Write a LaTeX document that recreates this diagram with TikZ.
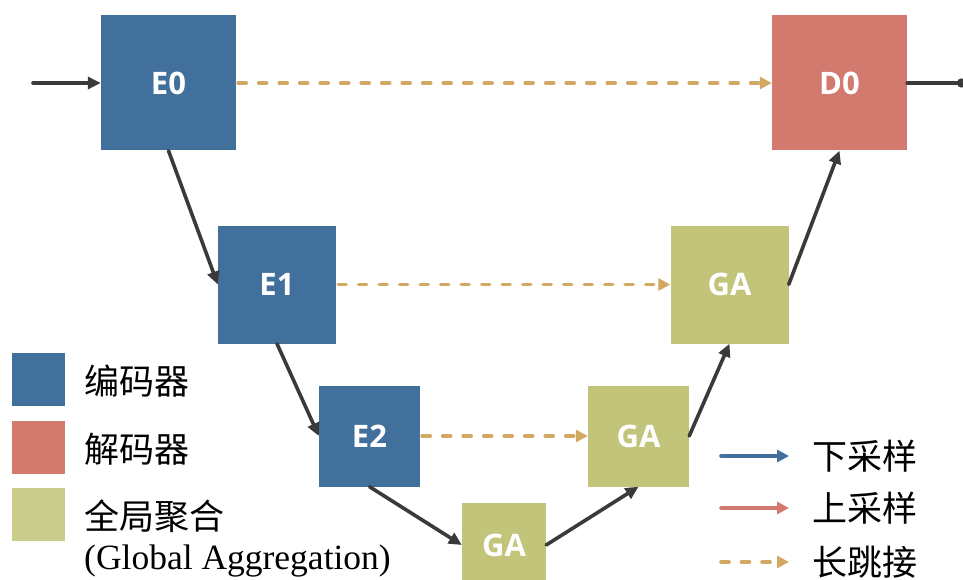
\documentclass[tikz,border=0pt]{standalone}
\usepackage{fontspec}
\setmainfont{Liberation Serif}
\newfontfamily\boxfont{Open Sans}
\newfontfamily\cjk{Noto Sans CJK SC}
\usetikzlibrary{arrows.meta}
\definecolor{encblue}{HTML}{41709C}
\definecolor{decred}{HTML}{D17A6D}
\definecolor{gagreen}{HTML}{C2C47A}
\definecolor{galegend}{HTML}{CACC8C}
\definecolor{skiptan}{HTML}{D2A862}
\definecolor{flowgray}{HTML}{3A3A3A}
\begin{document}
\begin{tikzpicture}[x=1pt,y=-1pt,
  blockbox/.style={minimum width=#1, minimum height=#1, inner sep=0pt,
    text=white, font=\boxfont\fontsize{31}{31}\selectfont\bfseries},
  enc/.style={blockbox=#1, fill=encblue},
  dec/.style={blockbox=#1, fill=decred},
  ga/.style={blockbox=#1, fill=gagreen},
  flow/.style={draw=flowgray, line width=3.6pt, line cap=round,
    -{Triangle[length=13pt,width=12pt]}},
  skip/.style={draw=skiptan, line width=3.6pt, line cap=round,
    dash pattern=on 8pt off 12.5pt,
    -{Triangle[length=12pt,width=12pt]}},
  legsq/.style={minimum width=53pt, minimum height=53pt, inner sep=0pt},
  legtext/.style={anchor=west, inner sep=0pt, font=\cjk\fontsize{35}{35}\selectfont}
]
\useasboundingbox (0,0) rectangle (963,580);

% encoder / decoder / aggregation blocks
\node[enc=135pt] (E0) at (168.5,83) {E0};
\node[dec=135pt] (D0) at (839.5,83) {D0};
\node[enc=118pt] (E1) at (277,284.5) {E1};
\node[ga=118pt]  (G1) at (729.5,284.5) {GA};
\node[enc=101pt] (E2) at (369.5,436) {E2};
\node[ga=101pt]  (G2) at (638.5,436) {GA};
\node[ga=84pt]   (G3) at (504,545) {GA};

% input and output
\coordinate (in) at (33,83);
\coordinate (out) at (966,83);
\draw[flow] (in) -- (E0.west);
\draw[flow, -{Circle[length=9pt]}] (D0.east) -- (out);

% down path
\draw[flow] (E0.south) -- (E1.west);
\draw[flow] (E1.south) -- (E2.west);
\draw[flow] (E2.south) -- (G3.west);
% up path
\draw[flow] (G3.east) -- (G2.south);
\draw[flow] (G2.east) -- (G1.south);
\draw[flow] (G1.east) -- (D0.south);

% long skip connections
\draw[skip] ([xshift=2pt]E0.east) -- (D0.west);
\draw[skip] ([xshift=2pt]E1.east) -- (G1.west);
\draw[skip] ([xshift=2pt]E2.east) -- (G2.west);

% legend: blocks
\node[legsq, fill=encblue] (L1) at (38.5,379.5) {};
\node[legsq, fill=decred] (L2) at (38.5,447.5) {};
\node[legsq, fill=galegend] (L3) at (38.5,514.5) {};
\node[legtext] (T1) at (84,381) {编码器};
\node[legtext] (T2) at (84,449) {解码器};
\node[legtext] (T3) at (84,516) {全局聚合};
\node[anchor=west, inner sep=0pt, font=\fontsize{35.5}{35.5}\selectfont] (T4) at (84,561) {(Global Aggregation)};

% legend: connectors
\coordinate (a1) at (721,456);
\coordinate (b1) at (789,456);
\coordinate (a2) at (721,508);
\coordinate (b2) at (789,508);
\coordinate (a3) at (721,562);
\coordinate (b3) at (789,562);
\draw[draw=encblue, line width=3.6pt, line cap=round, -{Triangle[length=12pt,width=12pt]}] (a1) -- (b1);
\draw[draw=decred, line width=3.6pt, line cap=round, -{Triangle[length=12pt,width=12pt]}] (a2) -- (b2);
\draw[skip] (a3) -- (b3);
\node[legtext] (R1) at (812,456) {下采样};
\node[legtext] (R2) at (812,508) {上采样};
\node[legtext] (R3) at (812,562) {长跳接};
\end{tikzpicture}
\end{document}
